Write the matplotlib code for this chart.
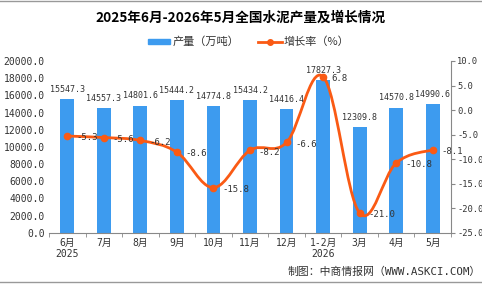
import matplotlib
matplotlib.use("Agg")
import matplotlib.pyplot as plt
from matplotlib.path import Path
from matplotlib.patches import PathPatch, Rectangle
from matplotlib.lines import Line2D
import numpy as np

plt.rcParams['font.family'] = ['Noto Sans CJK SC', 'DejaVu Sans']
MONO = ['DejaVu Sans Mono', 'Noto Sans CJK SC']

categories = ["6月\n2025", "7月", "8月", "9月", "10月", "11月", "12月", "1-2月\n2026", "3月", "4月", "5月"]
output = [15547.3, 14557.3, 14801.6, 15444.2, 14774.8, 15434.2, 14416.4, 17827.3, 12309.8, 14570.8, 14990.6]
growth = [-5.3, -5.6, -6.2, -8.6, -15.8, -8.2, -6.6, 6.8, -21.0, -10.8, -8.1]

bar_color = "#3d9bef"
line_color = "#fa5a14"
txt = "#333333"

fig = plt.figure(figsize=(4.82, 2.84), dpi=100)
ax = fig.add_axes([49/482, 1-232.7/284, (451-49)/482, (232.7-61)/284])
x = np.arange(len(categories))
ax.bar(x, output, width=0.38, color=bar_color, zorder=2)
ax.set_xlim(-0.5, len(categories)-0.5)
ax.set_ylim(0, 20000)
yt = np.arange(0, 20001, 2000)
ax.set_yticks(yt)
ax.set_yticklabels([f"{v:.1f}" for v in yt], fontsize=7, color=txt, family=MONO)
ax.set_xticks(x)
ax.set_xticklabels(categories, fontsize=7, color=txt, linespacing=1.1, family=MONO)
ax.set_xticks(np.arange(-0.5, len(categories), 1), minor=True)
ax.tick_params(axis='x', which='major', length=0, pad=4)
ax.tick_params(axis='x', which='minor', length=3, color="#888888")
ax.tick_params(axis='y', length=0, pad=3)
for s in ['top', 'right', 'left']:
    ax.spines[s].set_visible(False)
ax.spines['bottom'].set_color("#888888")
for xi, v in zip(x, output):
    ax.text(xi, v + 600, f"{v:.1f}", ha='center', va='bottom', fontsize=6, color=txt, family=MONO, zorder=5)

ax2 = ax.twinx()
ax2.set_ylim(-25, 10)
yt2 = np.arange(-25, 11, 5)
ax2.set_yticks(yt2)
ax2.set_yticklabels([f"{v:.1f}" for v in yt2], fontsize=6.3, color=txt, family=MONO)
ax2.tick_params(axis='y', length=3, color="#888888", pad=1.5)
for s in ['top', 'left', 'bottom']:
    ax2.spines[s].set_visible(False)
ax2.spines['right'].set_color("#888888")

# smooth curve through the data points with cubic Bezier segments
pts = np.column_stack([x, growth]).astype(float)
verts = [tuple(pts[0])]
codes = [Path.MOVETO]
t = 0.18
for i in range(len(pts)-1):
    p0 = pts[i-1] if i > 0 else pts[i]
    p1 = pts[i]
    p2 = pts[i+1]
    p3 = pts[i+2] if i+2 < len(pts) else pts[i+1]
    c1 = p1 + (p2 - p0) * t
    c2 = p2 - (p3 - p1) * t
    verts += [tuple(c1), tuple(c2), tuple(p2)]
    codes += [Path.CURVE4]*3
ax2.add_patch(PathPatch(Path(verts, codes), fill=False, edgecolor=line_color, lw=2, zorder=3))
ax2.plot(x, growth, 'o', color=line_color, ms=4.5, zorder=4)
for xi, g in zip(x, growth):
    ax2.text(xi + 0.24, g - 0.35, f"{g:.1f}", ha='left', va='center', fontsize=6.5, color=txt, family=MONO, zorder=5)

fig.text(0.5, 1-18/284, "2025年6月-2026年5月全国水泥产量及增长情况", ha='center', va='center', fontsize=9.8, fontweight='bold')
# legend
fig.patches.append(Rectangle((148/482, 1-44/284), 22/482, 5/284, transform=fig.transFigure, color=bar_color))
fig.text(173/482, 1-41.5/284, "产量（万吨）", ha='left', va='center', fontsize=8, color=txt)
fig.lines.append(Line2D([258/482, 282/482], [1-41.5/284]*2, transform=fig.transFigure, color=line_color, lw=2))
fig.lines.append(Line2D([270/482], [1-41.5/284], transform=fig.transFigure, color=line_color, marker='o', ms=4))
fig.text(284/482, 1-41.5/284, "增长率（%）", ha='left', va='center', fontsize=8, color=txt)

fig.text(481/482, 1-272/284, "制图：中商情报网（WWW.ASKCI.COM）", ha='right', va='center', fontsize=7.8, color=txt, family=MONO)
fig.lines.append(Line2D([0, 1], [1-0.5/284]*2, transform=fig.transFigure, color="#999999", lw=1))
fig.lines.append(Line2D([0, 1], [1-282/284]*2, transform=fig.transFigure, color="#999999", lw=1))

fig.savefig("out.png", dpi=100)
